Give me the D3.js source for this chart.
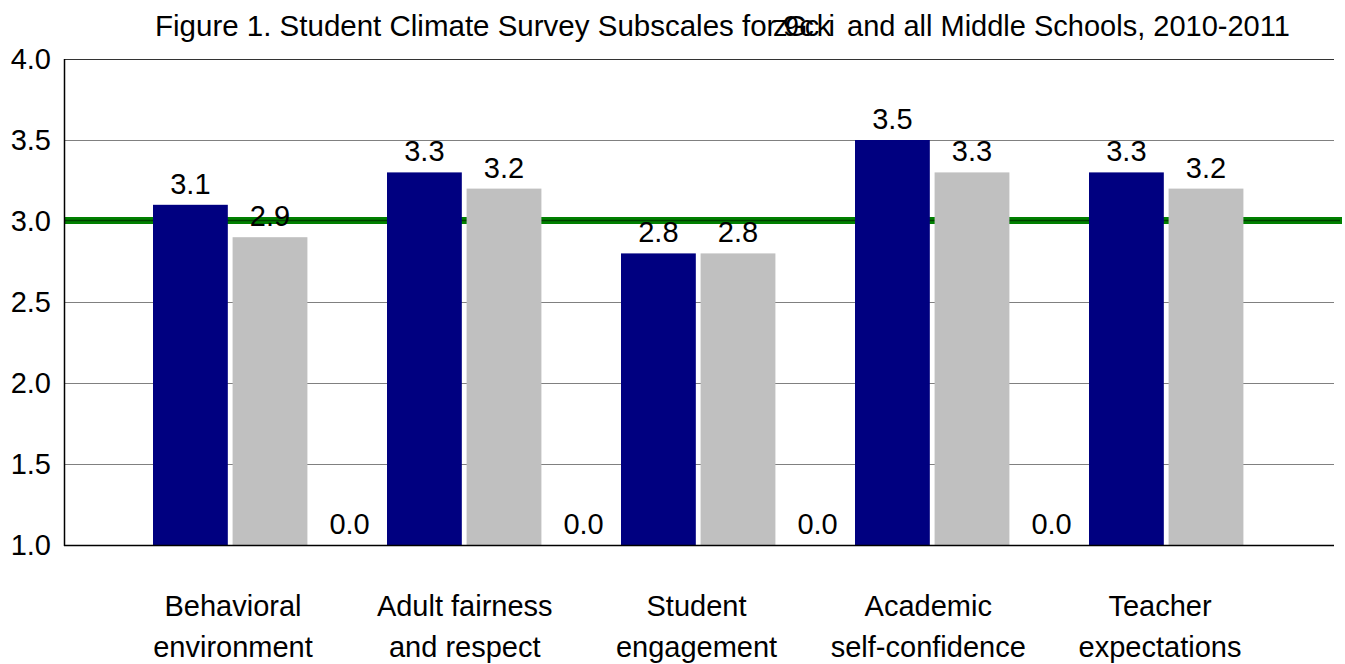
<!DOCTYPE html>
<html>
<head>
<meta charset="utf-8">
<script src="https://cdn.jsdelivr.net/npm/d3@7"></script>
<style>
body { margin: 0; background: #fff; }
text { font-family: "Liberation Sans", Arial, sans-serif; fill: #000; }
</style>
</head>
<body>
<svg width="1345" height="664"></svg>
<script>
// data
categories = ["Behavioral environment", "Adult fairness and respect", "Student engagement", "Academic self-confidence", "Teacher expectations"]
labelLines = [["Behavioral", "environment"], ["Adult fairness", "and respect"], ["Student", "engagement"], ["Academic", "self-confidence"], ["Teacher", "expectations"]]
schoolValues = [3.1, 3.3, 2.8, 3.5, 3.3]
allValues = [2.9, 3.2, 2.8, 3.3, 3.2]
blankValues = [0, 0, 0, 0, null]
yTicks = [1.0, 1.5, 2.0, 2.5, 3.0, 3.5, 4.0]
benchmark = 3.0
series = ["school", "all", "blank"]
seriesColor = {school: "#000080", all: "#c0c0c0", blank: "none"}

var svg = d3.select("svg")
var plotL = 64, plotR = 1334, plotT = 59, plotB = 545
var fs = "29px"

var y = d3.scaleLinear().domain([1, 4]).range([plotB, plotT])
var x = d3.scaleBand().domain(categories).range([153, 153 + 5 * 234]).padding(0)
var xs = d3.scaleBand().domain(series).range([0, x.bandwidth()]).paddingInner(0.06).paddingOuter(0)
var xLabel = d3.scalePoint().domain(categories).range([233, 1160])

// title (school name placeholder overlaps in the original)
svg.append("text")
    .attr("x", 155).attr("y", 36)
    .style("font-size", "29.5px")
    .text("Figure 1. Student Climate Survey Subscales for")
svg.append("text")
    .attr("x", 773).attr("y", 36)
    .attr("textLength", 62)
    .attr("lengthAdjust", "spacing")
    .style("font-size", "29px")
    .text("zGcki")
svg.append("text")
    .attr("x", 783).attr("y", 36)
    .style("font-size", "29px")
    .text("9c")
svg.append("text")
    .attr("x", 847).attr("y", 36)
    .style("font-size", "29px")
    .text("and all Middle Schools, 2010-2011")

// grid lines
svg.selectAll("line.grid")
    .data(yTicks.filter(d => d > 1 && d < 4 && d != benchmark))
    .enter()
    .append("line")
    .attr("class", "grid")
    .attr("x1", plotL).attr("x2", plotR)
    .attr("y1", d => y(d) + 0.5).attr("y2", d => y(d) + 0.5)
    .attr("stroke", "#808080")
    .attr("stroke-width", 1)
svg.append("line")
    .attr("x1", plotL).attr("x2", plotR)
    .attr("y1", y(4) + 0.5).attr("y2", y(4) + 0.5)
    .attr("stroke", "#333")
    .attr("stroke-width", 1)

// benchmark line
svg.append("line")
    .attr("x1", plotL).attr("x2", 1342)
    .attr("y1", y(benchmark) - 0.5).attr("y2", y(benchmark) - 0.5)
    .attr("stroke", "#008000")
    .attr("stroke-width", 7)
svg.append("line")
    .attr("x1", plotL).attr("x2", 1340)
    .attr("y1", y(benchmark) - 0.5).attr("y2", y(benchmark) - 0.5)
    .attr("stroke", "#004000")
    .attr("stroke-width", 1.5)

// bars
var barData = []
categories.forEach(function(c, i) {
    barData.push({cat: c, s: "school", v: schoolValues[i]})
    barData.push({cat: c, s: "all", v: allValues[i]})
    if (blankValues[i] != null) barData.push({cat: c, s: "blank", v: blankValues[i]})
})
svg.selectAll("rect.bar")
    .data(barData.filter(d => d.v > 1))
    .enter()
    .append("rect")
    .attr("class", "bar")
    .attr("x", d => x(d.cat) + xs(d.s))
    .attr("y", d => y(d.v))
    .attr("width", xs.bandwidth())
    .attr("height", d => y(1) - y(d.v))
    .attr("fill", d => seriesColor[d.s])

// value labels
svg.selectAll("text.val")
    .data(barData)
    .enter()
    .append("text")
    .attr("class", "val")
    .attr("x", d => x(d.cat) + xs(d.s) + xs.bandwidth() / 2)
    .attr("y", d => y(Math.max(d.v, 1)) - 11)
    .attr("text-anchor", "middle")
    .style("font-size", fs)
    .text(d => d.v.toFixed(1))

// axis lines
svg.append("line")
    .attr("x1", plotL + 0.5).attr("x2", plotL + 0.5)
    .attr("y1", plotT).attr("y2", plotB + 1)
    .attr("stroke", "#000").attr("stroke-width", 1.5)
svg.append("line")
    .attr("x1", plotL).attr("x2", plotR)
    .attr("y1", plotB + 0.5).attr("y2", plotB + 0.5)
    .attr("stroke", "#000").attr("stroke-width", 1.5)

// y tick labels
svg.selectAll("text.ytick")
    .data(yTicks)
    .enter()
    .append("text")
    .attr("class", "ytick")
    .attr("x", 51)
    .attr("y", d => y(d))
    .attr("dy", "0.36em")
    .attr("text-anchor", "end")
    .style("font-size", fs)
    .text(d => d.toFixed(1))

// category labels
var cl = svg.selectAll("text.cat")
    .data(categories)
    .enter()
    .append("text")
    .attr("class", "cat")
    .attr("text-anchor", "middle")
    .style("font-size", fs)
cl.selectAll("tspan")
    .data((d, i) => labelLines[i].map(t => ({t: t, c: d})))
    .enter()
    .append("tspan")
    .attr("x", d => xLabel(d.c))
    .attr("y", (d, j) => 616 + j * 41)
    .text(d => d.t)
</script>
</body>
</html>
